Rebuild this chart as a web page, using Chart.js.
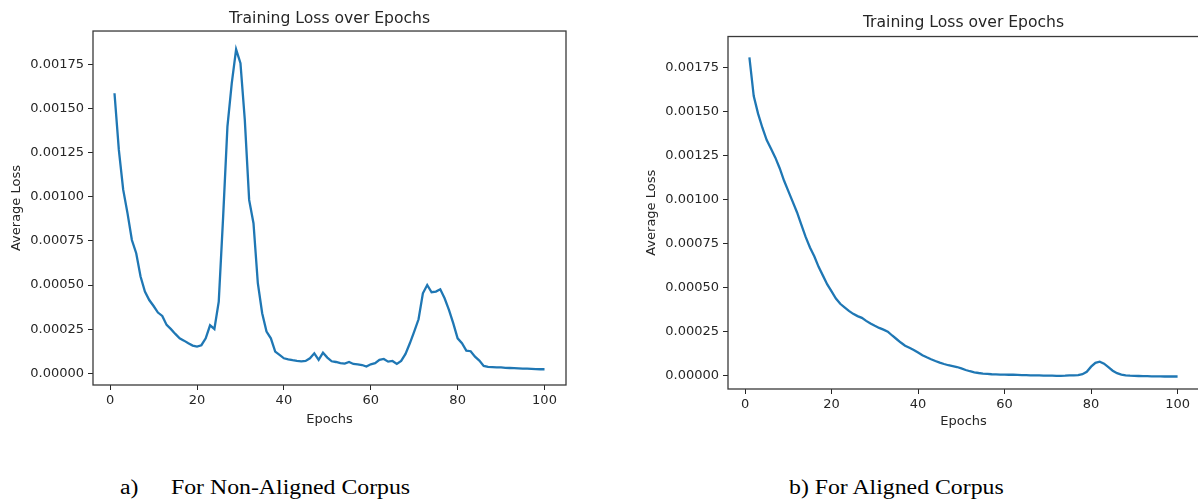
<!DOCTYPE html>
<html>
<head>
<meta charset="utf-8">
<script src="https://cdn.jsdelivr.net/npm/chart.js@4.4.0/dist/chart.umd.min.js"></script>
<style>
  html, body { margin: 0; padding: 0; background: #fff; overflow: hidden; }
  body { width: 1198px; height: 500px; position: relative; }
  .panel { position: absolute; top: 0; width: 600px; height: 440px; }
  #panelA { left: 0; }
  #panelB { left: 600px; }
  .caption {
    position: absolute; top: 475px; line-height: 24px;
    font-family: "Liberation Serif", "Times New Roman", serif;
    font-size: 20.5px; color: #000; white-space: pre;
    transform: scaleX(1.16); transform-origin: 0 50%;
  }
</style>
</head>
<body>
<div class="panel" id="panelA"><canvas id="chartA"></canvas></div>
<div class="panel" id="panelB"><canvas id="chartB"></canvas></div>
<div class="caption" style="left:120px">a)</div>
<div class="caption" style="left:171px">For Non-Aligned Corpus</div>
<div class="caption" style="left:789px">b) For Aligned Corpus</div>
<script>
// ---- data ----
const epochs = [1,2,3,4,5,6,7,8,9,10,11,12,13,14,15,16,17,18,19,20,
  21,22,23,24,25,26,27,28,29,30,31,32,33,34,35,36,37,38,39,40,
  41,42,43,44,45,46,47,48,49,50,51,52,53,54,55,56,57,58,59,60,
  61,62,63,64,65,66,67,68,69,70,71,72,73,74,75,76,77,78,79,80,
  81,82,83,84,85,86,87,88,89,90,91,92,93,94,95,96,97,98,99,100];

// a) non-aligned corpus
const lossNonAligned = [
  0.001586, 0.001265, 0.00104, 0.000906, 0.000755, 0.00068, 0.000548, 0.000463, 0.000415, 0.000381,
  0.000344, 0.000325, 0.000274, 0.00025, 0.000223, 0.000198, 0.000185, 0.00017, 0.000157, 0.000151,
  0.000159, 0.000198, 0.000272, 0.000251, 0.000406, 0.00088, 0.001397, 0.001643, 0.001835, 0.001756,
  0.001435, 0.000982, 0.00085, 0.00051, 0.00034, 0.000236, 0.000198, 0.000123, 0.000104, 0.000085,
  0.000079, 0.000074, 0.00007, 0.000068, 0.00007, 0.000085, 0.000113, 0.000076, 0.000117, 0.000089,
  0.000068, 0.000064, 0.000057, 0.000055, 0.000064, 0.000053, 0.000051, 0.000047, 0.000038, 0.000051,
  0.000057, 0.000076, 0.000081, 0.000066, 0.00007, 0.000053, 0.00007, 0.00011, 0.00017, 0.000236,
  0.000306, 0.000453, 0.0005, 0.000459, 0.000463, 0.000476, 0.000425, 0.000359, 0.000283, 0.000198,
  0.00017, 0.000128, 0.000125, 0.000094, 0.000072, 0.000042, 0.000036, 0.000035, 0.000034, 0.000033,
  0.000031, 0.00003, 0.000029, 0.000028, 0.000027, 0.000026, 0.000025, 0.000024, 0.000023, 0.000023
];

// b) aligned corpus
const lossAligned = [
  0.00181, 0.00159, 0.00149, 0.00141, 0.00134, 0.00129, 0.00124, 0.00118, 0.00111, 0.00105,
  0.00099, 0.00093, 0.00086, 0.00079, 0.00073, 0.00068, 0.00062, 0.00057, 0.00052, 0.00048,
  0.00044, 0.00041, 0.00039, 0.00037, 0.000353, 0.00034, 0.00033, 0.000313, 0.000298, 0.000285,
  0.000273, 0.000263, 0.000252, 0.00023, 0.00021, 0.00019, 0.000172, 0.00016, 0.000148, 0.000133,
  0.000118, 0.000106, 0.000095, 0.000085, 0.000076, 0.000068, 0.000061, 0.000056, 0.000051, 0.000043,
  0.000034, 0.000027, 0.000021, 0.000017, 0.000014, 0.000012, 0.00001, 0.000009, 0.000008, 0.000008,
  0.000007, 0.000007, 0.000006, 0.000005, 0.000005, 0.000004, 0.000003, 0.000003, 0.000002, 0.000002,
  0.000002, 0.000001, 0.000001, 0.000002, 0.000004, 0.000004, 0.000005, 0.00001, 0.000024, 0.000053,
  0.000075, 0.000081, 0.00007, 0.00005, 0.00003, 0.000016, 0.000008, 0.000004, 0.000002, 0.000001,
  0, -0.000001, -0.000001, -0.000002, -0.000002, -0.000002, -0.000003, -0.000003, -0.000003, -0.000003
];

const xTicks = [0, 20, 40, 60, 80, 100];
const yTicks = [0, 0.00025, 0.0005, 0.00075, 0.001, 0.00125, 0.0015, 0.00175];

const INK = '#262626';
const LINE_BLUE = '#1f77b4';

// matplotlib-like box around the axes
const frameBox = {
    id: 'frameBox',
    afterDraw(chart) {
        const { ctx, chartArea: a } = chart;
        ctx.save();
        ctx.strokeStyle = '#3a3a3a';
        ctx.lineWidth = 1.3;
        ctx.strokeRect(a.left, a.top, a.right - a.left, a.bottom - a.top);
        ctx.restore();
    }
};

function makeLossChart(canvasId, values, cfg) {
    const ctx = document.getElementById(canvasId).getContext('2d');
    return new Chart(ctx, {
        type: 'line',
        data: {
            datasets: [{
                data: epochs.map((e, i) => ({ x: e, y: values[i] })),
                borderColor: LINE_BLUE,
                borderWidth: 2.3,
                pointRadius: 0,
                tension: 0,
                fill: false
            }]
        },
        options: {
            responsive: true,
            maintainAspectRatio: false,
            animation: false,
            layout: { padding: cfg.padding },
            plugins: {
                legend: { display: false },
                tooltip: { enabled: false },
                title: {
                    display: true,
                    text: 'Training Loss over Epochs',
                    fullSize: false,
                    color: INK,
                    font: { family: 'DejaVu Sans', size: 15.6, weight: 'normal' },
                    padding: cfg.titlePad
                }
            },
            scales: {
                x: {
                    type: 'linear',
                    min: -3.95,
                    max: 104.95,
                    afterBuildTicks: s => { s.ticks = xTicks.map(v => ({ value: v })); },
                    afterFit: s => { s.height = cfg.xHeight; },
                    grid: { drawOnChartArea: false, drawTicks: true, tickLength: 5, color: INK },
                    border: { display: false },
                    ticks: {
                        color: INK, padding: 3, maxRotation: 0,
                        font: { family: 'DejaVu Sans', size: 13 },
                        callback: v => String(v)
                    },
                    title: {
                        display: true, text: 'Epochs', color: INK,
                        font: { family: 'DejaVu Sans', size: 13 },
                        padding: { top: 0, bottom: cfg.xTitlePad }
                    }
                },
                y: {
                    type: 'linear',
                    min: cfg.yMin,
                    max: cfg.yMax,
                    afterBuildTicks: s => { s.ticks = yTicks.map(v => ({ value: v })); },
                    afterFit: s => { s.width = 93; },
                    grid: { drawOnChartArea: false, drawTicks: true, tickLength: 5, color: INK },
                    border: { display: false },
                    ticks: {
                        color: INK, padding: 4,
                        font: { family: 'DejaVu Sans', size: 13 },
                        callback: v => Number(v).toFixed(5)
                    },
                    title: {
                        display: true, text: 'Average Loss', color: INK,
                        font: { family: 'DejaVu Sans', size: 13 },
                        padding: { top: 8.5, bottom: 0 }
                    }
                }
            }
        },
        plugins: [frameBox]
    });
}

makeLossChart('chartA', lossNonAligned, {
    padding: { left: 0, right: 34, top: 0, bottom: 5 },
    titlePad: { top: 10, bottom: 2.3 },
    xHeight: 50,
    xTitlePad: 7.2,
    yMin: -0.0000663,
    yMax: 0.0019386
});

makeLossChart('chartB', lossAligned, {
    padding: { left: 35, right: 1, top: 0, bottom: 5 },
    titlePad: { top: 13.5, bottom: 4.3 },
    xHeight: 46,
    xTitlePad: 5.5,
    yMin: -0.0000739,
    yMax: 0.001928
});
</script>
</body>
</html>
